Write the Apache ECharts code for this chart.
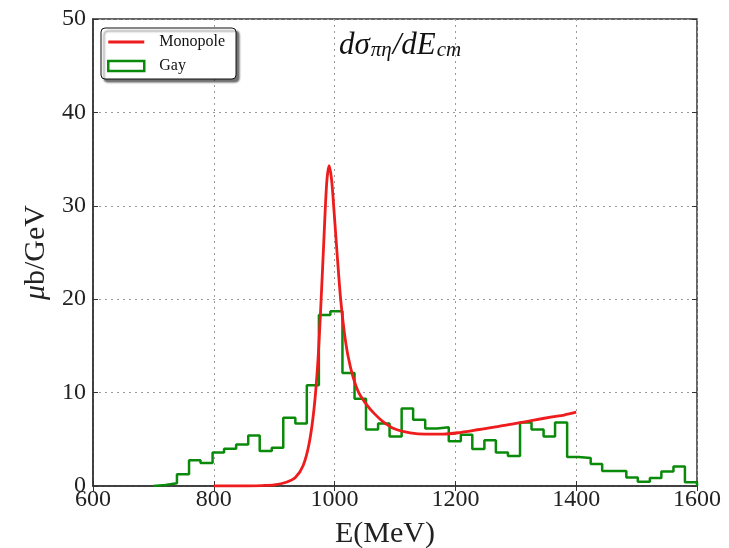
<!DOCTYPE html>
<html>
<head>
<meta charset="utf-8">
<script src="https://cdn.jsdelivr.net/npm/echarts@6/dist/echarts.min.js"></script>
<style>
  html, body { margin: 0; padding: 0; background: #fff; overflow: hidden; }
  #chart { width: 729px; height: 548px; }
</style>
</head>
<body>
<div id="chart"></div>
<script>
// Bin edges (MeV) of the "Gay" histogram and its contents (µb/GeV)
const binEdges = [700, 720, 739, 759, 778, 798, 817, 837, 857, 876, 896, 915, 935, 954, 974, 993,
  1013, 1033, 1052, 1072, 1091, 1111, 1130, 1150, 1170, 1189, 1209, 1228, 1248, 1267, 1287, 1307,
  1326, 1346, 1365, 1385, 1404, 1424, 1443, 1463, 1483, 1502, 1522, 1541, 1561, 1580, 1600];
const gayValues = [0.1, 0.3, 1.25, 2.75, 2.45, 3.6, 4.0, 4.45, 5.4, 3.75, 4.1, 7.3, 6.7, 10.8, 18.3, 18.7,
  12.1, 9.35, 6.05, 6.7, 5.3, 8.3, 7.1, 6.15, 6.3, 4.8, 5.5, 3.95, 4.9, 3.6, 3.2, 6.8,
  6.05, 5.3, 6.8, 3.1, 3.0, 2.35, 1.6, 1.6, 0.9, 0.45, 0.85, 1.55, 2.1, 0.4];

// Monopole line shape: energy (MeV) and cross section (µb/GeV)
const monoEnergy = [800, 850, 880, 900, 920, 935, 948, 958, 966, 972, 977, 982, 987, 991, 995, 999,
  1004, 1010, 1016, 1022, 1030, 1040, 1052, 1065, 1080, 1100, 1125, 1150, 1180, 1210, 1240, 1270,
  1300, 1330, 1360, 1380, 1400];
const monoValues = [0.0, 0.0, 0.05, 0.12, 0.4, 0.9, 2.2, 4.6, 8.3, 13, 19, 26, 32.5, 34.3, 32.8, 29.5,
  25, 20, 16.5, 14, 11.8, 10, 8.8, 7.8, 6.9, 6.1, 5.7, 5.55, 5.55, 5.75, 6.05, 6.35,
  6.7, 7.05, 7.4, 7.6, 7.9];

// Axis ticks
const xTicks = { min: 600, max: 1600, step: 200 };
const yTicks = { min: 0, max: 50, step: 10 };

// Step outline: start from the baseline, then one point per bin edge
const gayPoints = [[binEdges[0], 0]];
gayValues.forEach((v, i) => gayPoints.push([binEdges[i], v]));
gayPoints.push([binEdges[binEdges.length - 1], gayValues[gayValues.length - 1]]);
gayPoints.push([binEdges[binEdges.length - 1], 0]);

const monoPoints = monoEnergy.map((e, i) => [e, monoValues[i]]);

const SERIF = '"Liberation Serif", "DejaVu Serif", serif';
const gridLine = { show: true, lineStyle: { color: '#9a9a9a', type: [2, 4], width: 1 } };
const frameColor = '#333';
const RED = '#ee1c1c';
const GREEN = '#0a8a0a';
const plain = v => String(v);

const chart = echarts.init(document.getElementById('chart'), null, { renderer: 'canvas' });
chart.setOption({
  animation: false,
  backgroundColor: '#fff',
  grid: {
    left: 93, right: 32, top: 19, bottom: 62, outerBoundsMode: 'none', containLabel: false,
    show: true, borderColor: frameColor, borderWidth: 1.5, backgroundColor: 'transparent'
  },
  title: {
    text: '{a|dσ}{s|πη}{a|/dE}{s|cm}',
    left: 334, top: 23,
    textStyle: {
      fontWeight: 'normal',
      rich: {
        a: { fontFamily: SERIF, fontStyle: 'italic', fontWeight: 'normal', fontSize: 31, color: '#111', verticalAlign: 'bottom' },
        s: { fontFamily: SERIF, fontStyle: 'italic', fontWeight: 'normal', fontSize: 21, color: '#111', padding: [12, 1, 0, 1], verticalAlign: 'bottom' }
      }
    }
  },
  legend: {
    orient: 'vertical', left: 101, top: 28,
    backgroundColor: '#fff', borderColor: '#111', borderWidth: 1, borderRadius: 4,
    shadowColor: 'rgba(0,0,0,0.55)', shadowBlur: 2, shadowOffsetX: 3, shadowOffsetY: 3,
    padding: [6, 11, 5, 6], itemGap: 8, itemWidth: 36, itemHeight: 10,
    textStyle: { fontFamily: SERIF, fontSize: 16, color: '#111', padding: [0, 0, 0, 10] },
    data: [
      { name: 'Monopole', icon: 'path://M0,0 L36,0 L36,2.8 L0,2.8 Z', itemStyle: { color: RED, borderWidth: 0 } },
      { name: 'Gay', icon: 'rect', itemStyle: { color: '#fff', borderColor: GREEN, borderWidth: 2.5 } }
    ]
  },
  xAxis: [{
    type: 'value', min: xTicks.min, max: xTicks.max, interval: xTicks.step,
    name: 'E(MeV)', nameLocation: 'middle', nameGap: 33,
    nameTextStyle: { fontFamily: SERIF, fontSize: 30, color: '#222', padding: [0, 20, 0, 0] },
    axisLine: { show: true, lineStyle: { color: frameColor, width: 1.5 } },
    axisTick: { show: true, inside: true, length: 5, lineStyle: { color: frameColor } },
    axisLabel: { fontFamily: SERIF, fontSize: 24, color: '#222', margin: 2, formatter: plain },
    splitLine: gridLine
  }, {
    type: 'value', position: 'top', min: xTicks.min, max: xTicks.max, interval: xTicks.step,
    axisLine: { show: false }, axisLabel: { show: false }, splitLine: { show: false },
    axisTick: { show: true, inside: true, length: 5, lineStyle: { color: frameColor } }
  }],
  yAxis: [{
    type: 'value', min: yTicks.min, max: yTicks.max, interval: yTicks.step,
    name: '{m|μ}b/GeV', nameLocation: 'middle', nameGap: 34, nameRotate: 90,
    nameTextStyle: {
      fontFamily: SERIF, fontSize: 30, color: '#222',
      rich: { m: { fontFamily: SERIF, fontStyle: 'italic', fontSize: 30, color: '#222' } }
    },
    axisLine: { show: true, lineStyle: { color: frameColor, width: 1.5 } },
    axisTick: { show: true, inside: true, length: 5, lineStyle: { color: frameColor } },
    axisLabel: { fontFamily: SERIF, fontSize: 24, color: '#222', margin: 7, formatter: plain },
    splitLine: gridLine
  }, {
    type: 'value', position: 'right', min: yTicks.min, max: yTicks.max, interval: yTicks.step,
    axisLine: { show: false }, axisLabel: { show: false }, splitLine: { show: false },
    axisTick: { show: true, inside: true, length: 5, lineStyle: { color: frameColor } }
  }],
  series: [{
    name: 'Monopole', type: 'line', data: monoPoints, smooth: 0.3,
    showSymbol: false, symbol: 'none', z: 3,
    lineStyle: { color: RED, width: 2.8 }, itemStyle: { color: RED }
  }, {
    name: 'Gay', type: 'line', data: gayPoints, step: 'end',
    showSymbol: false, symbol: 'none', z: 2,
    lineStyle: { color: GREEN, width: 2.5 }, itemStyle: { color: GREEN }
  }]
});
</script>
</body>
</html>
